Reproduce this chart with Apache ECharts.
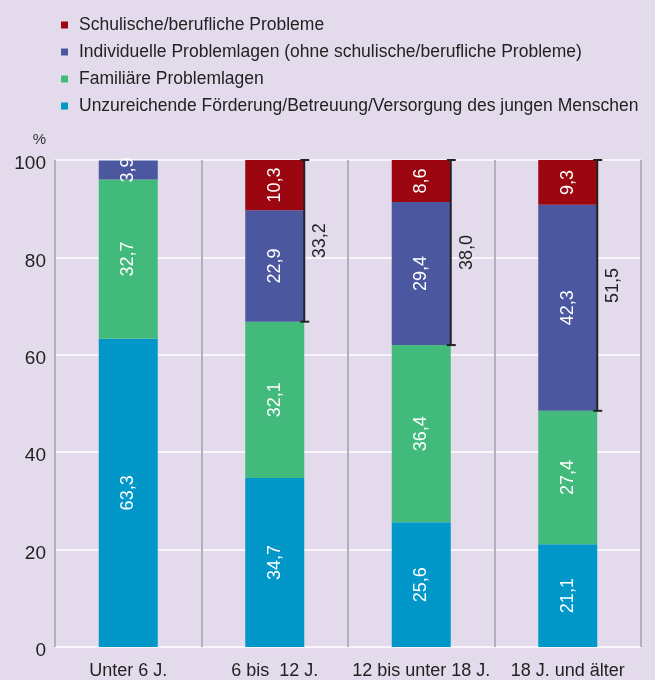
<!DOCTYPE html>
<html>
<head>
<meta charset="utf-8">
<script src="https://cdn.jsdelivr.net/npm/echarts@6/dist/echarts.min.js"></script>
<style>
  html, body { margin: 0; padding: 0; background: #e3dbeb; }
  #main { width: 655px; height: 680px; }
</style>
</head>
<body>
<div id="main"></div>
<script>
var categories = ['Unter 6 J.', '6 bis  12 J.', '12 bis unter 18 J.', '18 J. und älter']
var foerderung = [63.3, 34.7, 25.6, 21.1]
var familiaer = [32.7, 32.1, 36.4, 27.4]
var individuell = [3.9, 22.9, 29.4, 42.3]
var schulisch = [null, 10.3, 8.6, 9.3]
// Summenklammern (Individuelle + Schulische)
var klammer = [null, 33.2, 38.0, 51.5]
var yTicks = [0, 20, 40, 60, 80, 100]

var names = [
  'Unzureichende Förderung/Betreuung/Versorgung des jungen Menschen',
  'Familiäre Problemlagen',
  'Individuelle Problemlagen (ohne schulische/berufliche Probleme)',
  'Schulische/berufliche Probleme'
]
var colors = ['#0297c9', '#42ba7c', '#4b58a0', '#9c0610']
var font = "'Liberation Sans', Arial, sans-serif"
var barWidth = 59

function komma (v) {
  return v.toFixed(1).replace('.', ',')
}

function barSeries (name, data, color) {
  return {
    name: name,
    type: 'bar',
    stack: 'total',
    barWidth: barWidth,
    data: data,
    itemStyle: { color: color },
    label: {
      show: true,
      position: 'inside',
      rotate: 90,
      color: '#fff',
      fontFamily: font,
      fontSize: 18,
      formatter: function (p) { return p.value == null ? '' : komma(p.value) }
    }
  }
}

// Klammerdaten: [index, unten, oben, label]
var klammerData = []
klammer.forEach(function (v, i) {
  if (v == null) return
  var low = foerderung[i] + familiaer[i]
  var high = Math.min(100, low + individuell[i] + (schulisch[i] || 0))
  klammerData.push([i, low, high, v])
})

var myChart = echarts.init(document.getElementById('main'))

myChart.setOption({
  backgroundColor: '#e3dbeb',
  animation: false,
  legend: {
    orient: 'vertical',
    left: 56,
    top: 11,
    itemWidth: 7,
    itemHeight: 7,
    itemGap: 9,
    icon: 'rect',
    data: names.slice().reverse(),
    textStyle: {
      color: '#222',
      fontFamily: font,
      fontSize: 17.5,
      padding: [0, 0, 0, 6]
    }
  },
  grid: { left: 55, right: 14, top: 160, bottom: 32 },
  xAxis: {
    type: 'category',
    data: categories,
    axisLine: { show: false },
    axisTick: { show: false },
    axisLabel: { interval: 0, color: '#222', fontFamily: font, fontSize: 18, margin: 15 },
    splitLine: { show: true, interval: 0, lineStyle: { color: '#b5afbd', width: 2 } }
  },
  yAxis: {
    type: 'value',
    min: yTicks[0],
    max: yTicks[yTicks.length - 1],
    interval: 20,
    name: '%',
    nameLocation: 'end',
    nameGap: 13,
    nameTextStyle: { color: '#333', fontFamily: font, fontSize: 15, align: 'right', padding: [0, 9, 0, 0] },
    axisLine: { show: false },
    axisTick: { show: false },
    axisLabel: {
      margin: 9,
      formatter: function (v) { return '{t|' + v + '}' },
      rich: { t: { color: '#222', fontFamily: font, fontSize: 19, padding: [8, 0, 0, 0] } }
    },
    splitLine: { lineStyle: { color: '#ffffff', width: 1.5 } }
  },
  series: [
    barSeries(names[0], foerderung, colors[0]),
    barSeries(names[1], familiaer, colors[1]),
    barSeries(names[2], individuell, colors[2]),
    barSeries(names[3], schulisch, colors[3]),
    {
      type: 'custom',
      name: 'klammer',
      data: klammerData,
      encode: { x: 0, y: [1, 2] },
      z: 5,
      renderItem: function (params, api) {
        var bottom = api.coord([api.value(0), api.value(1)])
        var top = api.coord([api.value(0), api.value(2)])
        var x = bottom[0] + barWidth / 2
        var line = { stroke: '#222', lineWidth: 2 }
        return {
          type: 'group',
          children: [
            { type: 'line', shape: { x1: x, y1: top[1], x2: x, y2: bottom[1] }, style: line },
            { type: 'line', shape: { x1: x - 4, y1: top[1], x2: x + 5, y2: top[1] }, style: line },
            { type: 'line', shape: { x1: x - 4, y1: bottom[1], x2: x + 5, y2: bottom[1] }, style: line },
            {
              type: 'text',
              x: x + 16,
              y: (top[1] + bottom[1]) / 2,
              rotation: Math.PI / 2,
              style: {
                text: komma(api.value(3)),
                fill: '#222',
                font: '18px ' + font,
                align: 'center',
                verticalAlign: 'middle'
              }
            }
          ]
        }
      }
    }
  ]
})

window.onresize = function () {
  myChart.resize()
}
</script>
</body>
</html>
